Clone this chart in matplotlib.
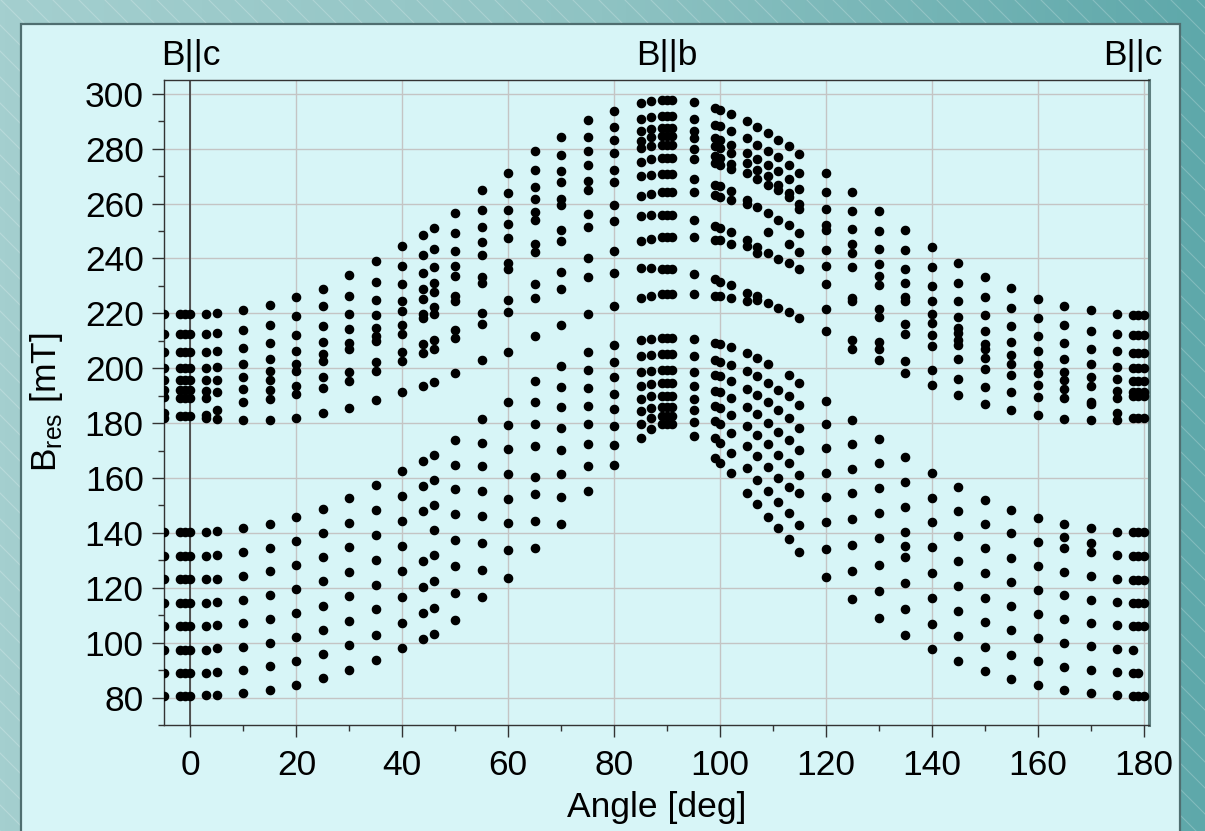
import numpy as np
import matplotlib
matplotlib.use('Agg')
import matplotlib.pyplot as plt
from matplotlib.colors import LinearSegmentedColormap
from matplotlib.patches import Rectangle
from matplotlib.ticker import MultipleLocator
import matplotlib.transforms as mtransforms

plt.rcParams['font.family'] = ['Liberation Sans', 'DejaVu Sans']

b_m5 = [219.8, 212.4, 205.9, 200.0, 195.6, 192.0, 189.5, 183.7, 181.9,
        140.4, 131.7, 123.1, 114.5, 106.0, 97.5, 89.1, 80.6]
b_m2 = [219.8, 212.4, 205.9, 200.0, 195.6, 192.2, 189.2, 182.5,
        140.4, 131.7, 123.1, 114.5, 106.0, 97.5, 89.1, 80.6]
b_m1 = [219.8, 212.4, 205.9, 200.0, 195.6, 192.2, 189.2, 182.5,
        140.4, 131.7, 123.1, 114.5, 106.0, 97.5, 89.1, 80.6]
b_0 = [219.8, 212.4, 205.9, 200.0, 195.6, 192.2, 189.2, 182.5,
       140.4, 131.7, 123.1, 114.5, 106.0, 97.5, 89.1, 80.6]
b_3 = [219.8, 212.4, 205.9, 200.0, 195.6, 191.8, 189.2, 183.1, 181.9,
       140.4, 131.7, 123.1, 114.5, 106.0, 97.5, 89.1, 80.8]
b_5 = [220.0, 212.8, 206.1, 200.4, 195.8, 191.2, 184.7, 181.5,
       140.6, 131.9, 123.3, 114.7, 106.3, 97.9, 89.3, 81.1]
b_10 = [221.2, 213.9, 207.3, 201.6, 196.8, 192.4, 187.8, 181.0,
        141.6, 132.9, 124.3, 115.7, 107.1, 98.6, 90.2, 81.8]
b_15 = [222.9, 215.8, 209.1, 203.5, 198.9, 195.8, 192.2, 188.9, 181.2,
        143.4, 134.4, 126.0, 117.3, 108.7, 100.0, 91.5, 82.9]
b_20 = [225.8, 218.9, 212.0, 206.4, 201.6, 199.1, 193.4, 190.6, 181.9,
        145.8, 136.9, 128.3, 119.4, 110.7, 102.0, 93.3, 84.7]
b_25 = [229.0, 222.5, 215.5, 209.7, 205.3, 202.8, 196.8, 192.9, 183.5,
        148.8, 139.9, 131.1, 122.3, 113.5, 104.7, 95.9, 87.0]
b_30 = [233.8, 226.3, 219.8, 214.1, 209.2, 207.0, 198.6, 195.4, 185.4,
        152.6, 143.6, 134.7, 125.9, 116.9, 107.9, 99.0, 89.9]
b_35 = [239.0, 231.5, 224.9, 219.2, 214.8, 211.6, 209.8, 202.1, 199.0, 188.3,
        157.4, 148.2, 139.3, 130.2, 121.1, 112.1, 102.9, 93.8]
b_40 = [244.6, 237.2, 230.6, 224.6, 220.9, 215.9, 212.5, 205.8, 202.7, 191.2,
        162.6, 153.4, 144.3, 135.2, 126.0, 116.5, 107.3, 98.0]
b_44 = [248.7, 241.2, 234.7, 228.7, 225.1, 219.6, 218.2, 208.9, 205.5, 193.4,
        166.2, 157.0, 148.1, 129.6, 120.2, 110.7, 101.2]
b_46 = [250.9, 243.5, 237.0, 231.2, 227.6, 222.3, 219.6, 210.1, 207.1, 194.8,
        168.3, 159.2, 150.2, 141.1, 132.0, 122.5, 112.8, 103.2]
b_50 = [256.7, 249.3, 242.8, 237.3, 233.7, 226.4, 224.5, 214.0, 211.0, 198.3,
        173.8, 164.8, 155.9, 146.8, 137.4, 127.8, 118.1, 108.4]
b_55 = [264.8, 257.8, 251.4, 246.0, 241.1, 233.1, 231.2, 220.2, 216.2, 202.9,
        181.6, 172.9, 164.2, 155.3, 146.0, 136.3, 126.6, 116.5]
b_60 = [271.1, 263.8, 257.7, 252.6, 247.6, 238.4, 236.0, 224.9, 220.4, 205.9,
        187.6, 179.2, 170.7, 161.6, 152.5, 143.5, 133.7, 123.6]
b_65 = [279.0, 272.1, 266.0, 261.7, 256.9, 254.1, 245.4, 242.3, 230.7, 225.6, 211.8,
        195.5, 187.8, 179.7, 171.5, 160.5, 154.2, 144.5, 134.5]
b_70 = [284.2, 277.7, 271.8, 267.7, 261.8, 259.4, 250.5, 246.5, 235.2, 228.9, 215.6,
        200.7, 193.2, 185.8, 178.2, 170.1, 161.5, 152.9, 143.2]
b_75 = [290.5, 284.2, 279.0, 274.2, 268.2, 265.0, 256.1, 251.4, 240.2, 233.1, 219.8,
        205.9, 199.4, 192.8, 186.3, 179.5, 172.3, 164.5, 155.3]
b_80 = [293.8, 287.8, 283.0, 278.4, 272.1, 267.8, 259.6, 253.6, 242.8, 234.7, 222.7,
        208.4, 202.3, 196.7, 190.7, 185.0, 178.8, 172.1, 164.6]
b_85 = [296.6, 290.8, 286.3, 282.9, 280.3, 275.2, 270.2, 262.6, 255.4, 246.3, 236.4, 225.5,
        210.3, 204.5, 198.6, 193.6, 188.8, 184.3, 179.8, 174.4]
b_87 = [297.5, 291.6, 287.2, 284.1, 281.1, 276.3, 270.5, 263.6, 255.7, 247.0, 236.4, 226.3,
        210.7, 204.9, 199.1, 194.2, 189.7, 185.5, 181.9, 177.9]
b_89 = [297.7, 292.0, 287.5, 284.5, 281.5, 276.6, 270.6, 264.2, 255.7, 247.8, 236.1, 226.9,
        210.9, 205.1, 199.2, 194.6, 190.0, 185.7, 182.5, 179.8]
b_90 = [297.7, 292.0, 287.5, 284.5, 281.5, 276.6, 270.6, 264.2, 255.7, 247.8, 236.1, 226.9,
        210.9, 205.1, 199.2, 194.6, 190.0, 185.7, 182.5, 179.8]
b_91 = [297.7, 292.0, 287.5, 284.5, 281.5, 276.6, 270.6, 264.2, 255.7, 247.8, 236.1, 226.9,
        210.9, 205.1, 199.2, 194.6, 190.0, 185.7, 182.5, 179.8]
b_95 = [296.9, 290.8, 286.3, 283.8, 279.9, 276.3, 269.0, 264.2, 253.9, 247.8, 234.5, 227.0,
        210.6, 204.5, 198.6, 193.6, 188.9, 184.7, 180.3, 175.2]
b_99 = [294.7, 288.6, 283.9, 281.1, 277.2, 274.8, 266.6, 263.0, 251.7, 246.6, 232.4, 226.3,
        209.1, 203.1, 197.4, 191.8, 186.1, 180.7, 174.6, 167.4]
b_100 = [294.2, 288.1, 283.2, 280.3, 276.6, 274.2, 266.2, 262.4, 251.1, 246.6, 231.5, 226.3,
         208.7, 202.4, 197.0, 191.2, 185.5, 179.5, 172.8, 165.5]
b_102 = [292.6, 286.6, 281.4, 278.3, 274.5, 272.7, 264.4, 261.2, 249.7, 245.4, 230.3, 225.5,
         207.6, 201.2, 195.2, 189.1, 183.1, 176.4, 169.2, 161.7]
b_105 = [290.0, 283.8, 278.3, 274.8, 271.2, 261.2, 259.7, 246.6, 244.6, 227.3, 224.3,
         205.5, 199.1, 192.4, 185.7, 178.9, 171.6, 163.5, 154.7]
b_107 = [288.0, 281.5, 276.3, 272.3, 268.8, 258.7, 244.2, 242.0, 226.3, 224.9,
         203.7, 197.0, 190.1, 183.3, 175.6, 168.0, 159.1, 150.4]
b_109 = [285.7, 279.3, 273.9, 270.2, 266.6, 256.6, 249.7, 242.0, 223.6,
         201.5, 194.6, 187.6, 180.1, 172.2, 164.1, 155.2, 145.8]
b_111 = [283.3, 276.9, 271.7, 266.8, 264.8, 254.1, 239.7, 221.8,
         192.2, 184.9, 176.8, 168.3, 160.1, 151.3, 141.6]
b_113 = [281.1, 274.2, 269.0, 263.9, 262.4, 252.1, 245.4, 238.2, 220.6,
         197.6, 189.7, 181.9, 174.0, 165.5, 156.8, 147.4, 137.7]
b_115 = [278.1, 271.1, 265.2, 260.0, 258.1, 249.3, 242.4, 236.0, 218.2,
         194.6, 186.5, 178.2, 170.1, 161.1, 154.4, 142.9, 133.1]
b_120 = [271.2, 264.2, 257.9, 252.1, 250.3, 243.2, 237.2, 230.7, 221.6, 213.7,
         188.0, 179.5, 171.0, 161.9, 153.2, 143.8, 134.1, 124.1]
b_125 = [264.2, 257.2, 250.6, 245.1, 241.8, 237.0, 225.7, 224.6, 210.1, 207.1,
         181.2, 172.5, 163.4, 154.7, 145.2, 135.7, 126.0, 116.0]
b_130 = [257.2, 249.9, 243.4, 237.9, 233.6, 230.3, 221.5, 218.6, 209.4, 207.1, 203.1,
         174.3, 165.3, 156.3, 147.2, 138.0, 128.4, 118.7, 109.0]
b_135 = [250.3, 243.0, 236.3, 230.9, 226.1, 224.3, 216.1, 212.5, 202.7, 198.2,
         167.8, 158.7, 149.6, 140.4, 135.1, 131.3, 121.8, 112.3, 102.7]
b_140 = [244.0, 236.7, 229.9, 224.3, 219.7, 216.4, 212.1, 208.2, 199.2, 194.0,
         161.9, 152.6, 143.8, 134.7, 125.4, 116.2, 106.9, 97.6]
b_145 = [238.4, 231.1, 224.5, 218.6, 214.6, 212.8, 210.3, 208.5, 203.4, 196.1, 190.1,
         156.7, 147.8, 138.7, 129.8, 120.7, 111.6, 102.4, 93.2]
b_150 = [233.3, 226.1, 219.4, 213.6, 208.9, 207.1, 203.7, 199.7, 193.2, 187.1,
         152.0, 143.2, 134.4, 125.4, 116.4, 107.5, 98.4, 89.6]
b_155 = [229.1, 221.9, 215.2, 209.5, 204.7, 201.7, 197.4, 191.3, 184.6,
         148.4, 139.8, 130.9, 122.0, 113.2, 104.5, 95.6, 86.7]
b_160 = [225.3, 218.3, 211.6, 206.2, 201.3, 198.3, 193.7, 189.6, 182.8,
         145.4, 136.5, 127.8, 119.2, 110.5, 101.8, 93.2, 84.5]
b_165 = [222.7, 215.6, 209.2, 203.4, 198.5, 195.6, 192.5, 189.0, 181.4,
         143.2, 138.4, 134.4, 125.9, 117.2, 108.5, 99.9, 91.2, 82.7]
b_170 = [221.3, 213.7, 207.1, 201.6, 196.8, 193.5, 187.6, 186.8, 181.0,
         141.6, 136.2, 132.9, 124.2, 115.7, 107.1, 98.7, 90.0, 81.5]
b_175 = [219.8, 212.6, 206.2, 200.3, 195.9, 191.6, 189.2, 183.8, 181.1,
         140.5, 131.9, 123.2, 114.8, 106.3, 97.8, 89.4, 80.9]
b_178 = [219.5, 212.2, 205.6, 199.9, 195.5, 191.3, 189.8, 182.0,
         140.2, 131.5, 123.0, 114.4, 106.0, 97.5, 89.1, 80.6]
b_179 = [219.5, 212.2, 205.6, 199.9, 195.5, 191.3, 189.8, 182.0,
         140.2, 131.5, 123.0, 114.4, 106.0, 89.1, 80.6]
b_180 = [219.5, 212.2, 205.6, 199.9, 195.5, 191.3, 189.8, 182.0,
         140.2, 131.5, 123.0, 114.4, 106.0, 80.6]

angles = [-5, -2, -1, 0, 3, 5, 10, 15, 20, 25, 30, 35, 40, 44, 46, 50, 55, 60,
          65, 70, 75, 80, 85, 87, 89, 90, 91, 95, 99, 100, 102, 105, 107, 109,
          111, 113, 115, 120, 125, 130, 135, 140, 145, 150, 155, 160, 165, 170,
          175, 178, 179, 180]
fields = [b_m5, b_m2, b_m1, b_0, b_3, b_5, b_10, b_15, b_20, b_25, b_30, b_35,
          b_40, b_44, b_46, b_50, b_55, b_60, b_65, b_70, b_75, b_80, b_85, b_87,
          b_89, b_90, b_91, b_95, b_99, b_100, b_102, b_105, b_107, b_109, b_111,
          b_113, b_115, b_120, b_125, b_130, b_135, b_140, b_145, b_150, b_155,
          b_160, b_165, b_170, b_175, b_178, b_179, b_180]

orient_pos = [0, 90, 178]
orient_txt = ['B||c', 'B||b', 'B||c']

W, H = 1205, 831
fig = plt.figure(figsize=(W / 100, H / 100), dpi=100)

# teal striped backdrop and light panel
bg = fig.add_axes([0, 0, 1, 1])
bg.set_xlim(0, W)
bg.set_ylim(0, H)
bg.axis('off')
cmap = LinearSegmentedColormap.from_list('teal', ['#a4cfcf', '#8fc3c3', '#5ea8aa'])
bg.imshow(np.linspace(0, 1, 256)[None, :], cmap=cmap, aspect='auto',
          extent=[0, W, 0, H], zorder=0)
for c in np.arange(0, W + H, 26):
    bg.plot([c - H, c], [H, 0], color='white', alpha=0.22, lw=0.8, zorder=1)
bg.add_patch(Rectangle((21, -10), 1159, H - 24 + 10, facecolor='#d7f5f7',
                       edgecolor='#4f6e70', lw=1.6, zorder=2))

ax = fig.add_axes([164 / W, 1 - 725 / H, (1149 - 164) / W, (725 - 80) / H])
ax.set_facecolor('#d7f5f7')

for a, bs in zip(angles, fields):
    ax.plot([a] * len(bs), bs, 'o', color='black', markersize=6.0,
            markeredgewidth=0.9, zorder=3)

ax.axvline(0, color='#3a3a3a', lw=1.2, zorder=2)

ax.set_xlim(-5, 181)
ax.set_ylim(70, 305)
ax.xaxis.set_major_locator(MultipleLocator(20))
ax.xaxis.set_minor_locator(MultipleLocator(10))
ax.yaxis.set_major_locator(MultipleLocator(20))
ax.yaxis.set_minor_locator(MultipleLocator(10))
ax.set_yticks(np.arange(80, 301, 20))
ax.grid(True, which='major', color='#c4c4c4', lw=1.0, zorder=1)
ax.set_axisbelow(True)

ax.tick_params(which='major', direction='out', length=8.6, width=1.0,
               labelsize=25.5, pad=6, color='#333333')
ax.tick_params(which='minor', direction='out', length=4.3, width=1.0,
               color='#333333')
ax.tick_params(axis='x', which='major', pad=9)
ax.tick_params(top=False, right=False, which='both')

for s in ['left', 'bottom', 'top']:
    ax.spines[s].set_color('#333333')
    ax.spines[s].set_linewidth(1.0)
ax.spines['right'].set_color('#5f7f80')
ax.spines['right'].set_linewidth(2.2)

ax.set_xlabel('Angle [deg]', fontsize=25.5, labelpad=6)
ax.set_ylabel(r'B$_{\mathregular{res}}$ [mT]', fontsize=25.5, labelpad=14)

trans = mtransforms.blended_transform_factory(ax.transData, ax.transAxes)
for xp, t in zip(orient_pos, orient_txt):
    ax.text(xp, 1.012, t, transform=trans, ha='center', va='bottom',
            fontsize=25.5)

fig.savefig('out.png', dpi=100)
